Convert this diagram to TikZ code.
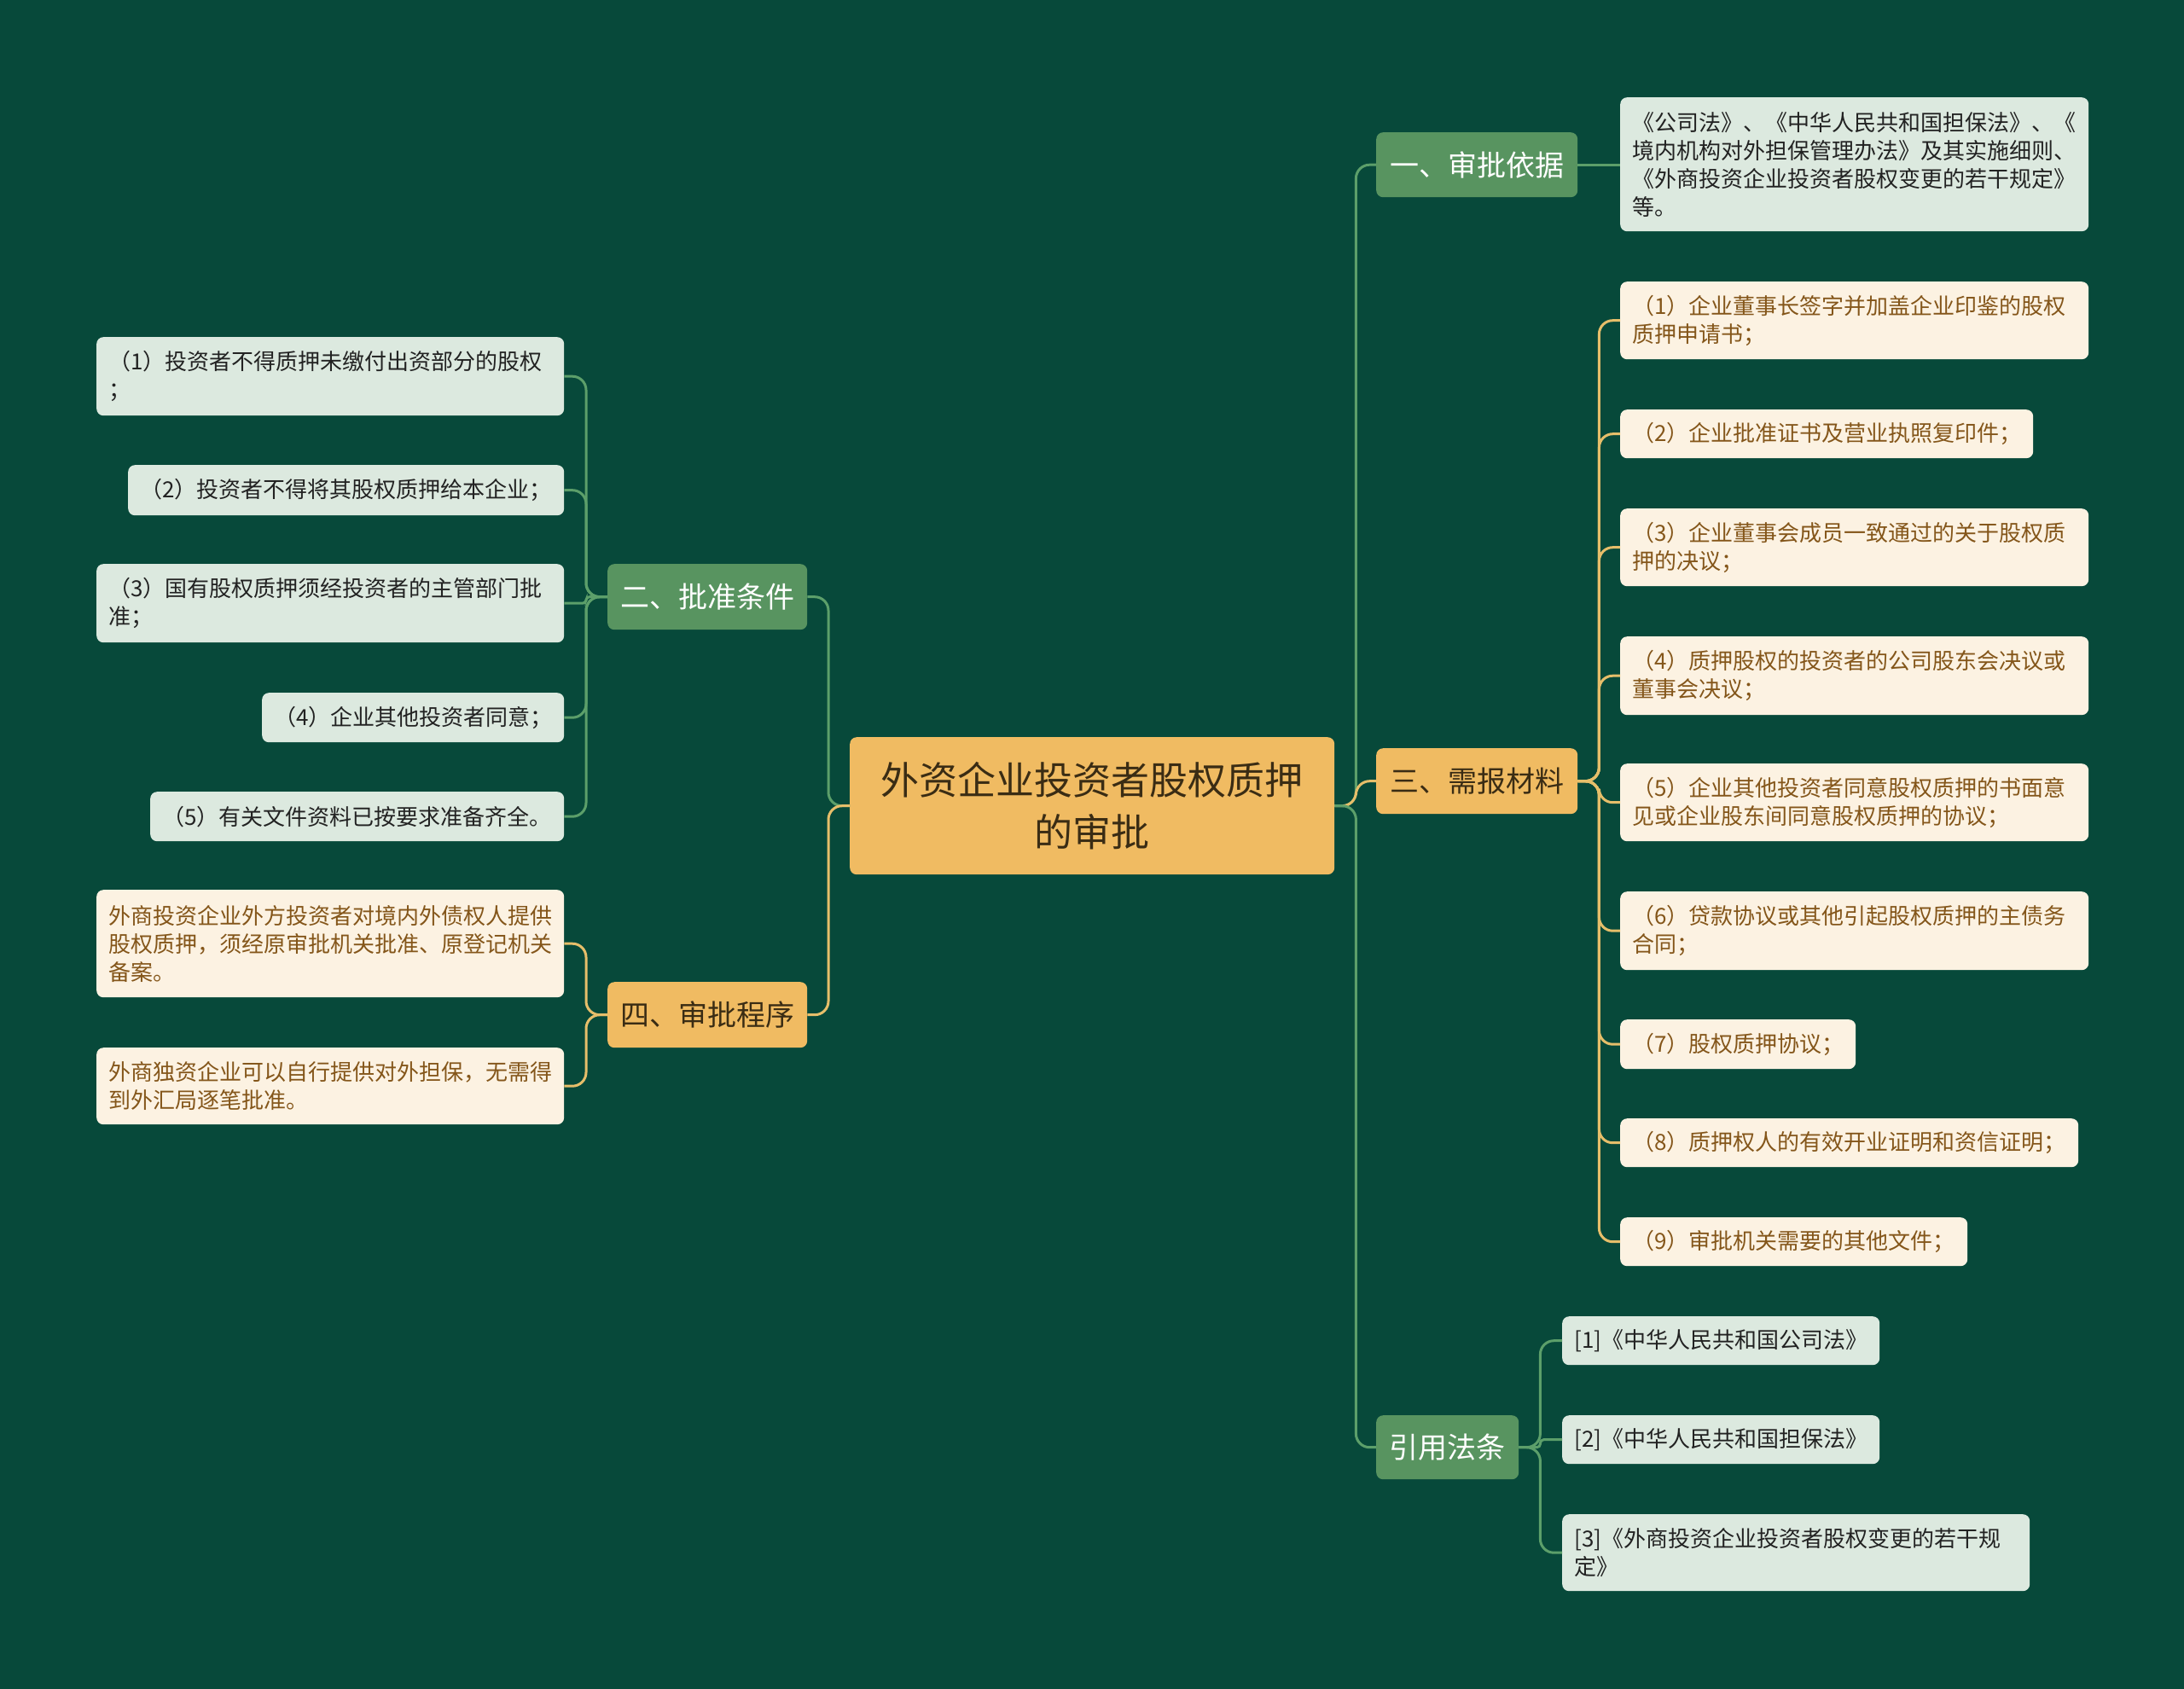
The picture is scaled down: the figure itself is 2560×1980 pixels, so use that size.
\documentclass[tikz,border=0pt]{standalone}
\usepackage{fontspec}
\setmainfont{Noto Sans CJK SC}
\definecolor{bg}{HTML}{07493A}
\definecolor{gbox}{HTML}{589460}
\definecolor{gleaffill}{HTML}{DCE9DF}
\definecolor{obox}{HTML}{F0BB62}
\definecolor{oleaffill}{HTML}{FCF2E2}
\definecolor{otext}{HTML}{84561A}
\definecolor{dtext}{HTML}{222222}
\definecolor{ctext}{HTML}{3A2C14}
\definecolor{gline}{HTML}{5C9F6A}
\definecolor{oline}{HTML}{E6BE6A}
\begin{document}
\begin{tikzpicture}[x=1pt,y=-1pt,
  boxbase/.style={rounded corners=8pt, inner ysep=0pt, anchor=north west},
  leafbase/.style={boxbase, inner xsep=14pt, align=left, font=\fontsize{26}{33}\selectfont},
  gleaf/.style={leafbase, fill=gleaffill, text=dtext},
  oleaf/.style={leafbase, fill=oleaffill, text=otext},
  lvlbase/.style={boxbase, inner xsep=0pt, align=center, font=\fontsize{34}{40}\selectfont},
  glvl/.style={lvlbase, fill=gbox, text=white},
  olvl/.style={lvlbase, fill=obox, text=ctext},
  gconn/.style={draw=gline, line width=3pt, rounded corners=16pt},
  oconn/.style={draw=oline, line width=3pt, rounded corners=16pt}
]
\useasboundingbox (0,0) rectangle (2560,1980);
\fill[bg] (0,0) rectangle (2560,1980);

% center
\node[boxbase, fill=obox, text=ctext, inner xsep=0pt, align=center,
  minimum width=568pt, minimum height=161pt,
  font=\fontsize{45}{61}\selectfont] (c) at (996,864) {外资企业投资者股权质押\\的审批};

% level 1
\node[glvl, minimum width=236pt, minimum height=76pt] (b1) at (1613,155) {一、审批依据};
\node[olvl, minimum width=236pt, minimum height=77pt] (b3) at (1613,877) {三、需报材料};
\node[glvl, minimum width=167pt, minimum height=75pt] (b5) at (1613,1659) {引用法条};
\node[glvl, minimum width=234pt, minimum height=77pt] (b2) at (712,661) {二、批准条件};
\node[olvl, minimum width=234pt, minimum height=77pt] (b4) at (712,1151) {四、审批程序};

% 一 leaf
\node[gleaf, text width=521pt, minimum height=157pt] (a1) at (1899,114)
 {《公司法》、《中华人民共和国担保法》、《\\境内机构对外担保管理办法》及其实施细则、\\《外商投资企业投资者股权变更的若干规定》\\等。};

% 三 leaves
\node[oleaf, text width=521pt, minimum height=91pt] (m1) at (1899,330) {（1）企业董事长签字并加盖企业印鉴的股权\\质押申请书；};
\node[oleaf, text width=456pt, minimum height=57pt] (m2) at (1899,480) {（2）企业批准证书及营业执照复印件；};
\node[oleaf, text width=521pt, minimum height=91pt] (m3) at (1899,596) {（3）企业董事会成员一致通过的关于股权质\\押的决议；};
\node[oleaf, text width=521pt, minimum height=92pt] (m4) at (1899,746) {（4）质押股权的投资者的公司股东会决议或\\董事会决议；};
\node[oleaf, text width=521pt, minimum height=91pt] (m5) at (1899,895) {（5）企业其他投资者同意股权质押的书面意\\见或企业股东间同意股权质押的协议；};
\node[oleaf, text width=521pt, minimum height=92pt] (m6) at (1899,1045) {（6）贷款协议或其他引起股权质押的主债务\\合同；};
\node[oleaf, text width=248pt, minimum height=58pt] (m7) at (1899,1195) {（7）股权质押协议；};
\node[oleaf, text width=509pt, minimum height=57pt] (m8) at (1899,1311) {（8）质押权人的有效开业证明和资信证明；};
\node[oleaf, text width=379pt, minimum height=57pt] (m9) at (1899,1427) {（9）审批机关需要的其他文件；};

% 引用法条 leaves
\node[gleaf, text width=344pt, minimum height=57pt] (r1) at (1831,1543) {[1]《中华人民共和国公司法》};
\node[gleaf, text width=344pt, minimum height=57pt] (r2) at (1831,1659) {[2]《中华人民共和国担保法》};
\node[gleaf, text width=520pt, minimum height=90pt] (r3) at (1831,1775) {[3]《外商投资企业投资者股权变更的若干规\\定》};

% 二 leaves
\node[gleaf, text width=520pt, minimum height=92pt] (p1) at (113,395) {（1）投资者不得质押未缴付出资部分的股权\\；};
\node[gleaf, text width=483pt, minimum height=59pt] (p2) at (150,545) {（2）投资者不得将其股权质押给本企业；};
\node[gleaf, text width=520pt, minimum height=92pt] (p3) at (113,661) {（3）国有股权质押须经投资者的主管部门批\\准；};
\node[gleaf, text width=326pt, minimum height=58pt] (p4) at (307,812) {（4）企业其他投资者同意；};
\node[gleaf, text width=457pt, minimum height=58pt] (p5) at (176,928) {（5）有关文件资料已按要求准备齐全。};

% 四 leaves
\node[oleaf, text width=520pt, minimum height=126pt] (q1) at (113,1043) {外商投资企业外方投资者对境内外债权人提供\\股权质押，须经原审批机关批准、原登记机关\\备案。};
\node[oleaf, text width=520pt, minimum height=90pt] (q2) at (113,1228) {外商独资企业可以自行提供对外担保，无需得\\到外汇局逐笔批准。};

% connectors: center -> level 1
\draw[gconn] (c.east) -- ++(25,0) |- (b1.west);
\draw[oconn] (c.east) -- ++(25,0) |- (b3.west);
\draw[gconn] (c.east) -- ++(25,0) |- (b5.west);
\draw[gconn] (c.west) -- ++(-25,0) |- (b2.east);
\draw[oconn] (c.west) -- ++(-25,0) |- (b4.east);

% level 1 -> leaves
\draw[gconn] (b1.east) -- (b1.east -| a1.west);
\foreach \m in {m1,m2,m3,m4,m5,m6,m7,m8,m9}
  \draw[oconn] (b3.east) -- ++(25,0) |- (\m.west);
\foreach \r in {r1,r3}
  \draw[gconn] (b5.east) -- ++(25,0) |- (\r.west);
\draw[gconn, rounded corners=4pt] (b5.east) -- ++(25,0) |- (r2.west);
\foreach \p in {p1,p2,p4,p5}
  \draw[gconn] (b2.west) -- ++(-25,0) |- (\p.east);
\draw[gconn, rounded corners=4pt] (b2.west) -- ++(-25,0) |- (p3.east);
\foreach \q in {q1,q2}
  \draw[oconn] (b4.west) -- ++(-25,0) |- (\q.east);
\end{tikzpicture}
\end{document}
